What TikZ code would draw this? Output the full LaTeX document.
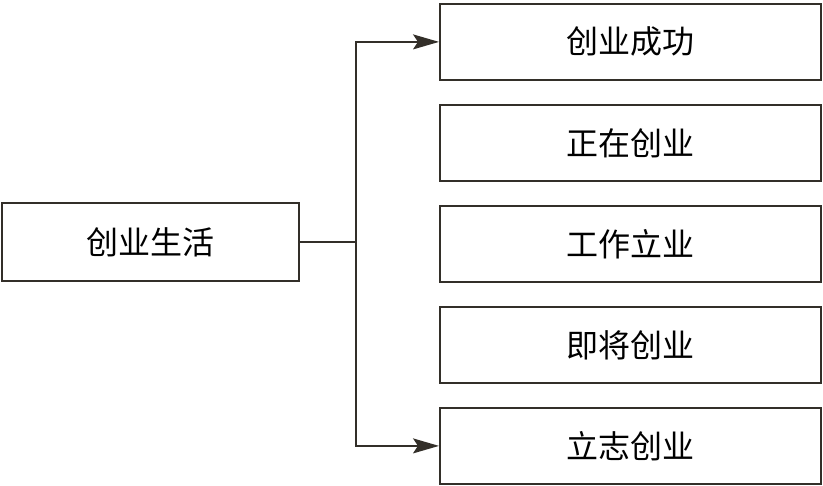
\documentclass[tikz,border=0pt]{standalone}
\usepackage{fontspec}
\newfontfamily\cjk{Noto Sans CJK SC}[Scale=1]
\usetikzlibrary{arrows.meta}
\begin{document}
\begin{tikzpicture}[x=1pt,y=-1pt,
  boxn/.style={draw=black!85!olive, line width=1.8pt, minimum width=381pt, minimum height=76pt, inner sep=0pt, font=\cjk\fontsize{32}{36}\selectfont, anchor=north west, fill=white},
  conn/.style={line width=1.6pt, draw=black!85!olive},
  tip/.style={-{Stealth[length=26pt,width=15pt,inset=5pt]}}]
\useasboundingbox (0,0) rectangle (823,486);
\node[boxn, minimum width=297pt, minimum height=78pt] (src) at (1,202) {创业生活};
\node[boxn] (a) at (439,3) {创业成功};
\node[boxn] (b) at (439,104) {正在创业};
\node[boxn] (c) at (439,205) {工作立业};
\node[boxn] (d) at (439,306) {即将创业};
\node[boxn] (e) at (439,407) {立志创业};
\coordinate (j) at (356,241);
\draw[conn] (src.east) -- (src.east -| j);
\draw[conn,tip] (src.east -| j) |- (a.west);
\draw[conn,tip] (src.east -| j) |- (e.west);
\end{tikzpicture}
\end{document}
